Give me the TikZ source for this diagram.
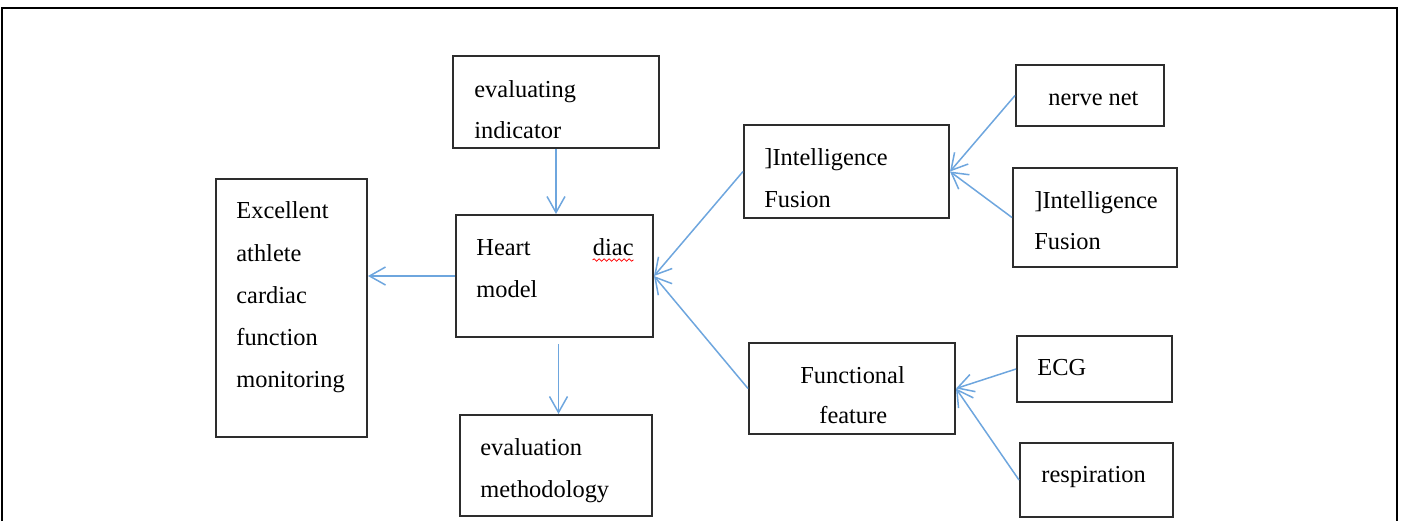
\documentclass[tikz,border=0pt]{standalone}
\usepackage{fontspec}
\setmainfont{Liberation Serif}
\usetikzlibrary{arrows.meta,fit,decorations.pathmorphing}
\definecolor{arrblue}{RGB}{110,166,222}
\definecolor{boxgray}{RGB}{45,45,45}
\tikzset{
  x=0.5pt, y=-0.5pt,
  box/.style={draw=boxgray, line width=1pt, inner sep=0pt},
  lbl/.style={anchor=base west, inner sep=0pt, font=\fontsize{12.2}{14}\selectfont},
  lblr/.style={anchor=base east, inner sep=0pt, font=\fontsize{12.2}{14}\selectfont},
  arr/.style={draw=arrblue, line width=0.75pt, -{Straight Barb[length=8pt,width=9pt,line width=0.75pt]}},
}
\begin{document}
\begin{tikzpicture}
\useasboundingbox (0,0) rectangle (1402,521);
% outer frame
\draw[line width=1pt, black] (2,521) -- (2,8) -- (1397,8) -- (1397,521);

% boxes
\node[box, fit={(453,56) (659,148)}] (ei) {};
\node[box, fit={(216,179) (367,437)}] (exc) {};
\node[box, fit={(456,215) (653,337)}] (heart) {};
\node[box, fit={(460,415) (652,516)}] (em) {};
\node[box, fit={(744,125) (949,218)}] (intm) {};
\node[box, fit={(1016,65) (1164,126)}] (nerve) {};
\node[box, fit={(1013,168) (1177,267)}] (intr) {};
\node[box, fit={(749,343) (955,434)}] (func) {};
\node[box, fit={(1017,336) (1172,402)}] (ecg) {};
\node[box, fit={(1020,443) (1173,517)}] (resp) {};

% texts
\node[lbl] (t1) at (474,97) {evaluating};
\node[lbl] (t2) at (474,138) {indicator};
\node[lbl] (t3) at (236,218) {Excellent};
\node[lbl] (t4) at (236,261) {athlete};
\node[lbl] (t5) at (236,303) {cardiac};
\node[lbl] (t6) at (236,345) {function};
\node[lbl] (t7) at (236,387) {monitoring};
\node[lbl] (t8) at (476,255) {Heart};
\node[lblr] (t9) at (634,255) {diac};
\node[lbl] (t10) at (476,297) {model};
\node[lbl] (t11) at (480,455) {evaluation};
\node[lbl] (t12) at (480,497) {methodology};
\node[lbl] (t13) at (764,165) {]Intelligence};
\node[lbl] (t14) at (764,207) {Fusion};
\node[lbl] (t15) at (1048,105) {nerve net};
\node[lbl] (t16) at (1034,208) {]Intelligence};
\node[lbl] (t17) at (1034,249) {Fusion};
\node[lbl] (t18) at (800,383) {Functional};
\node[lbl] (t19) at (819,423) {feature};
\node[lbl] (t20) at (1037,375) {ECG};
\node[lbl] (t21) at (1041,482) {respiration};

% spell-check squiggle
\draw[red, line width=0.4pt, decorate, decoration={snake, amplitude=0.6pt, segment length=2.5pt}]
  (t9.base west) ++(0,5) -- ++(41,0);

% connectors
\draw[arr] (ei.south) -- (ei.south |- heart.north);
\draw[arr] (heart.west) -- (exc.east |- heart.west);
\draw[arr] ([xshift=2pt,yshift=-3pt]heart.south) -- ([xshift=2pt]heart.south |- em.north);
\draw[arr] (intm.west) -- (heart.east);
\draw[arr] (func.west) -- (heart.east);
\draw[arr] (nerve.west) -- (intm.east);
\draw[arr] (intr.west) -- (intm.east);
\draw[arr] (ecg.west) -- (func.east);
\draw[arr] (resp.west) -- (func.east);
\end{tikzpicture}
\end{document}
